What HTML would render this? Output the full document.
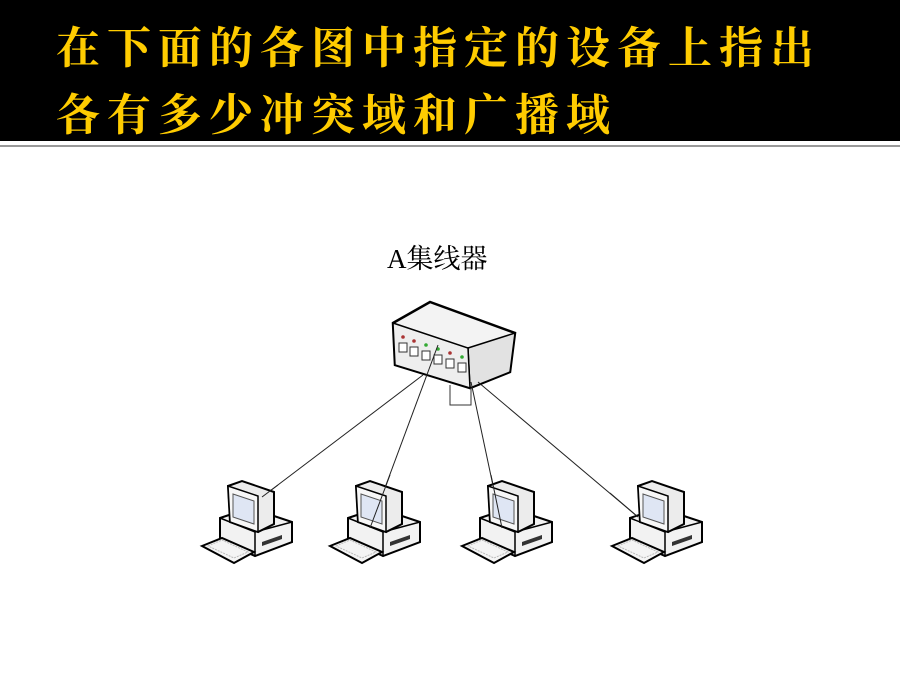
<!DOCTYPE html>
<html><head><meta charset="utf-8"><style>
html,body{margin:0;padding:0;background:#fff;}
body{width:900px;height:675px;position:relative;overflow:hidden;font-family:"Liberation Sans","Noto Sans CJK SC",sans-serif;}
#hdr{position:absolute;left:0;top:0;width:900px;height:141px;background:#000;}
.t{position:absolute;left:56px;color:#ffcc00;font-family:"Liberation Serif","Noto Serif CJK SC",serif;font-weight:bold;font-size:44px;letter-spacing:7px;white-space:nowrap;line-height:1;}
#rule{position:absolute;left:0;top:145px;width:900px;height:2px;background:#999;}
#lbl{position:absolute;left:387px;top:237px;font-size:27px;color:#000;font-family:"Liberation Serif","Noto Serif CJK SC",serif;}
</style></head><body>
<div id="hdr"></div>
<div class="t" style="top:27px">在下面的各图中指定的设备上指出</div>
<div class="t" style="top:94px">各有多少冲突域和广播域</div>
<div id="rule"></div>
<div id="lbl">A集线器</div>
<svg width="900" height="675" style="position:absolute;left:0;top:0">
<defs>
<g id="pc">
 <polygon points="20,46 50,36 92,50 92,70 55,84 20,68" fill="#f2f2f2" stroke="#000" stroke-width="2"/>
 <polyline points="20,46 55,60 92,50" fill="none" stroke="#000" stroke-width="1.5"/>
 <line x1="55" y1="60" x2="55" y2="84" stroke="#000" stroke-width="1.5"/>
 <polygon points="62,70 82,63 82,67 62,74" fill="#333"/>
 <polygon points="28,14 42,9 74,20 74,52 58,60 30,50" fill="#ececec" stroke="#000" stroke-width="2"/>
 <polygon points="28,14 58,24 58,60 30,50" fill="#f7f7f7" stroke="#000" stroke-width="1.5"/>
 <polygon points="33,22 54,29 54,52 33,45" fill="#dfe6f4" stroke="#555" stroke-width="1"/>
 <polygon points="2,74 22,66 54,80 34,91" fill="#f4f4f4" stroke="#000" stroke-width="2"/>
 <polygon points="8,74 22,68 48,80 34,86" fill="none" stroke="#bbb" stroke-width="1" stroke-dasharray="2,1"/>
</g>
</defs>
<polygon points="393,323 430,302 515,333 510,372 470,388 395,365" fill="#f3f3f3" stroke="#000" stroke-width="2.5"/>
<polygon points="468,348 515,333 510,372 470,388" fill="#e2e2e2" stroke="#000" stroke-width="1.5"/>
<polygon points="393,323 468,348 470,388 395,365" fill="#eee" stroke="#000" stroke-width="1.5"/>
<g fill="#fff" stroke="#333" stroke-width="1">
<rect x="399" y="343" width="8" height="9"/><rect x="410" y="347" width="8" height="9"/>
<rect x="422" y="351" width="8" height="9"/><rect x="434" y="355" width="8" height="9"/>
<rect x="446" y="359" width="8" height="9"/><rect x="458" y="363" width="8" height="9"/>
</g>
<g><circle cx="403" cy="337" r="1.8" fill="#a33"/><circle cx="414" cy="341" r="1.8" fill="#a33"/><circle cx="426" cy="345" r="1.8" fill="#3a3"/><circle cx="438" cy="349" r="1.8" fill="#3a3"/><circle cx="450" cy="353" r="1.8" fill="#a33"/><circle cx="462" cy="357" r="1.8" fill="#3a3"/></g>
<polyline points="450,385 450,405 471,405 471,388" fill="none" stroke="#333" stroke-width="1"/>
<g stroke="#222" stroke-width="1" fill="none">
<line x1="423" y1="375" x2="262" y2="497"/>
<line x1="438" y1="345" x2="370" y2="528"/>
<line x1="471" y1="382" x2="502" y2="528"/>
<line x1="478" y1="382" x2="638" y2="517"/>
</g>
<use href="#pc" x="200" y="472"/>
<use href="#pc" x="328" y="472"/>
<use href="#pc" x="460" y="472"/>
<use href="#pc" x="610" y="472"/>
<g stroke="#222" stroke-width="1">
<line x1="390" y1="475" x2="370" y2="528"/>
<line x1="491" y1="475" x2="502" y2="528"/>
<line x1="610" y1="493" x2="638" y2="517"/>
<line x1="278" y1="485" x2="262" y2="497"/>
</g>
</svg>
</body></html>
